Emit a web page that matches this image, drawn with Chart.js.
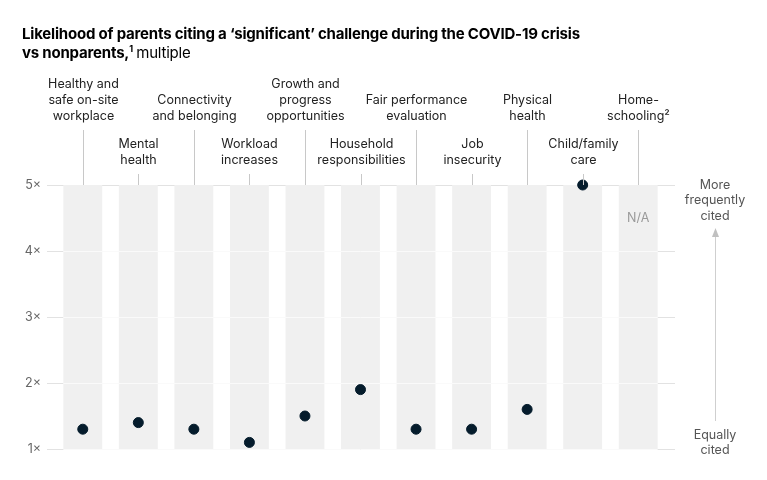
<!DOCTYPE html>
<html>
<head>
<meta charset="utf-8">
<script src="https://cdn.jsdelivr.net/npm/chart.js@4"></script>
<style>
  body { margin: 0; background: #fff; }
  #wrap { position: relative; width: 767px; height: 480px; }
  #title {
    position: absolute; left: 22px; top: 24px;
    font-family: Inter, sans-serif; font-size: 15px; font-weight: 700;
    line-height: 19px; color: #000; letter-spacing: -0.2px;
  }
  #title .light { font-weight: 400; }
  #title sup { font-size: 9px; line-height: 0; }
</style>
</head>
<body>
<div id="wrap">
  <div id="title">Likelihood of parents citing a ‘significant’ challenge during the COVID-19 crisis<br>vs nonparents,<sup>1</sup> <span class="light">multiple</span></div>
  <canvas id="chart"></canvas>
</div>
<script>
const categories = [
  ["Healthy and", "safe on-site", "workplace"],
  ["Mental", "health"],
  ["Connectivity", "and belonging"],
  ["Workload", "increases"],
  ["Growth and", "progress", "opportunities"],
  ["Household", "responsibilities"],
  ["Fair performance", "evaluation"],
  ["Job", "insecurity"],
  ["Physical", "health"],
  ["Child/family", "care"],
  ["Home-", "schooling²"]
];
// parents vs nonparents multiple, null = not applicable
const multiples = [1.3, 1.4, 1.3, 1.1, 1.5, 1.9, 1.3, 1.3, 1.6, 5.0, null];
const yTicks = [1, 2, 3, 4, 5];
const yMin = 1;
const yMax = 5;

const FONT = "Inter, sans-serif";

const decor = {
  id: "decor",
  beforeDatasetsDraw(chart) {
    const { ctx, chartArea, scales: { y } } = chart;
    ctx.save();
    ctx.strokeStyle = "#e2e2e2";
    ctx.lineWidth = 1;
    yTicks.forEach((t) => {
      const py = Math.round(y.getPixelForValue(t)) + 0.5;
      ctx.beginPath();
      ctx.moveTo(chartArea.left - 8, py);
      ctx.lineTo(chartArea.right + 9, py);
      ctx.stroke();
    });
    ctx.restore();
  },
  afterDatasetDraw(chart, args) {
    if (args.meta.type !== "bar") return;
    const { ctx, scales: { y } } = chart;
    const bars = args.meta.data;
    const x0 = bars[0].x - bars[0].width / 2;
    const x1 = bars[bars.length - 1].x + bars[bars.length - 1].width / 2;
    ctx.save();
    ctx.strokeStyle = "#fafafa";
    ctx.lineWidth = 1;
    yTicks.slice(0, -1).forEach((t) => {
      const py = Math.round(y.getPixelForValue(t)) + 0.5;
      ctx.beginPath();
      ctx.moveTo(x0, py);
      ctx.lineTo(x1, py);
      ctx.stroke();
    });
    ctx.restore();
  },
  afterDraw(chart) {
    const { ctx, chartArea, scales: { x, y } } = chart;
    ctx.save();
    ctx.font = "12.5px " + FONT;
    ctx.textAlign = "center";
    ctx.textBaseline = "middle";

    categories.forEach((lines, i) => {
      const px = Math.round(x.getPixelForValue(i)) + 0.5;
      const high = i % 2 === 0;
      const bottom = high ? 116 : 160;
      const lineTop = high ? 130 : 174;
      ctx.strokeStyle = "#c8c8c8";
      ctx.lineWidth = 1;
      ctx.beginPath();
      ctx.moveTo(px, lineTop);
      ctx.lineTo(px, chartArea.top);
      ctx.stroke();
      ctx.fillStyle = "#222";
      lines.forEach((s, j) => {
        ctx.fillText(s, px, bottom - (lines.length - 1 - j) * 16);
      });
    });

    // N/A marker for the missing value
    multiples.forEach((v, i) => {
      if (v !== null) return;
      ctx.fillStyle = "#9a9a9a";
      ctx.fillText("N/A", x.getPixelForValue(i), y.getPixelForValue(4.5));
    });

    // right-hand reading guide
    const gx = 715;
    ctx.fillStyle = "#555";
    ["More", "frequently", "cited"].forEach((s, j) => ctx.fillText(s, gx, 185 + j * 15.5));
    ["Equally", "cited"].forEach((s, j) => ctx.fillText(s, gx, 435 + j * 15.5));
    ctx.strokeStyle = "#cfcfcf";
    ctx.beginPath();
    ctx.moveTo(gx + 0.5, 236);
    ctx.lineTo(gx + 0.5, 421);
    ctx.stroke();
    ctx.fillStyle = "#c0c0c0";
    ctx.beginPath();
    ctx.moveTo(gx + 0.5, 228);
    ctx.lineTo(gx + 4, 237);
    ctx.lineTo(gx - 3, 237);
    ctx.closePath();
    ctx.fill();
    ctx.restore();
  }
};

new Chart(document.getElementById("chart"), {
  data: {
    labels: categories.map((c) => c.join(" ")),
    datasets: [
      {
        type: "line",
        data: multiples,
        showLine: false,
        pointRadius: 5,
        pointHoverRadius: 5,
        pointBackgroundColor: "#051c2c",
        pointBorderColor: "#051c2c",
        clip: false,
        order: 1
      },
      {
        type: "bar",
        data: categories.map(() => [yMin, yMax]),
        backgroundColor: "#f0f0f0",
        barPercentage: 0.7,
        categoryPercentage: 1,
        order: 2
      }
    ]
  },
  options: {
    responsive: true,
    maintainAspectRatio: false,
    animation: false,
    layout: { padding: { left: 10, right: 101, top: 185, bottom: 31 } },
    plugins: { legend: { display: false }, tooltip: { enabled: false } },
    scales: {
      x: { display: false },
      y: {
        min: yMin,
        max: yMax,
        border: { display: false },
        grid: { display: false },
        afterFit: (scale) => { scale.width = 45; },
        ticks: {
          stepSize: 1,
          padding: 6,
          color: "#666",
          font: { family: FONT, size: 12.5 },
          callback: (v) => v + "×"
        }
      }
    }
  },
  plugins: [decor]
});
</script>
</body>
</html>
